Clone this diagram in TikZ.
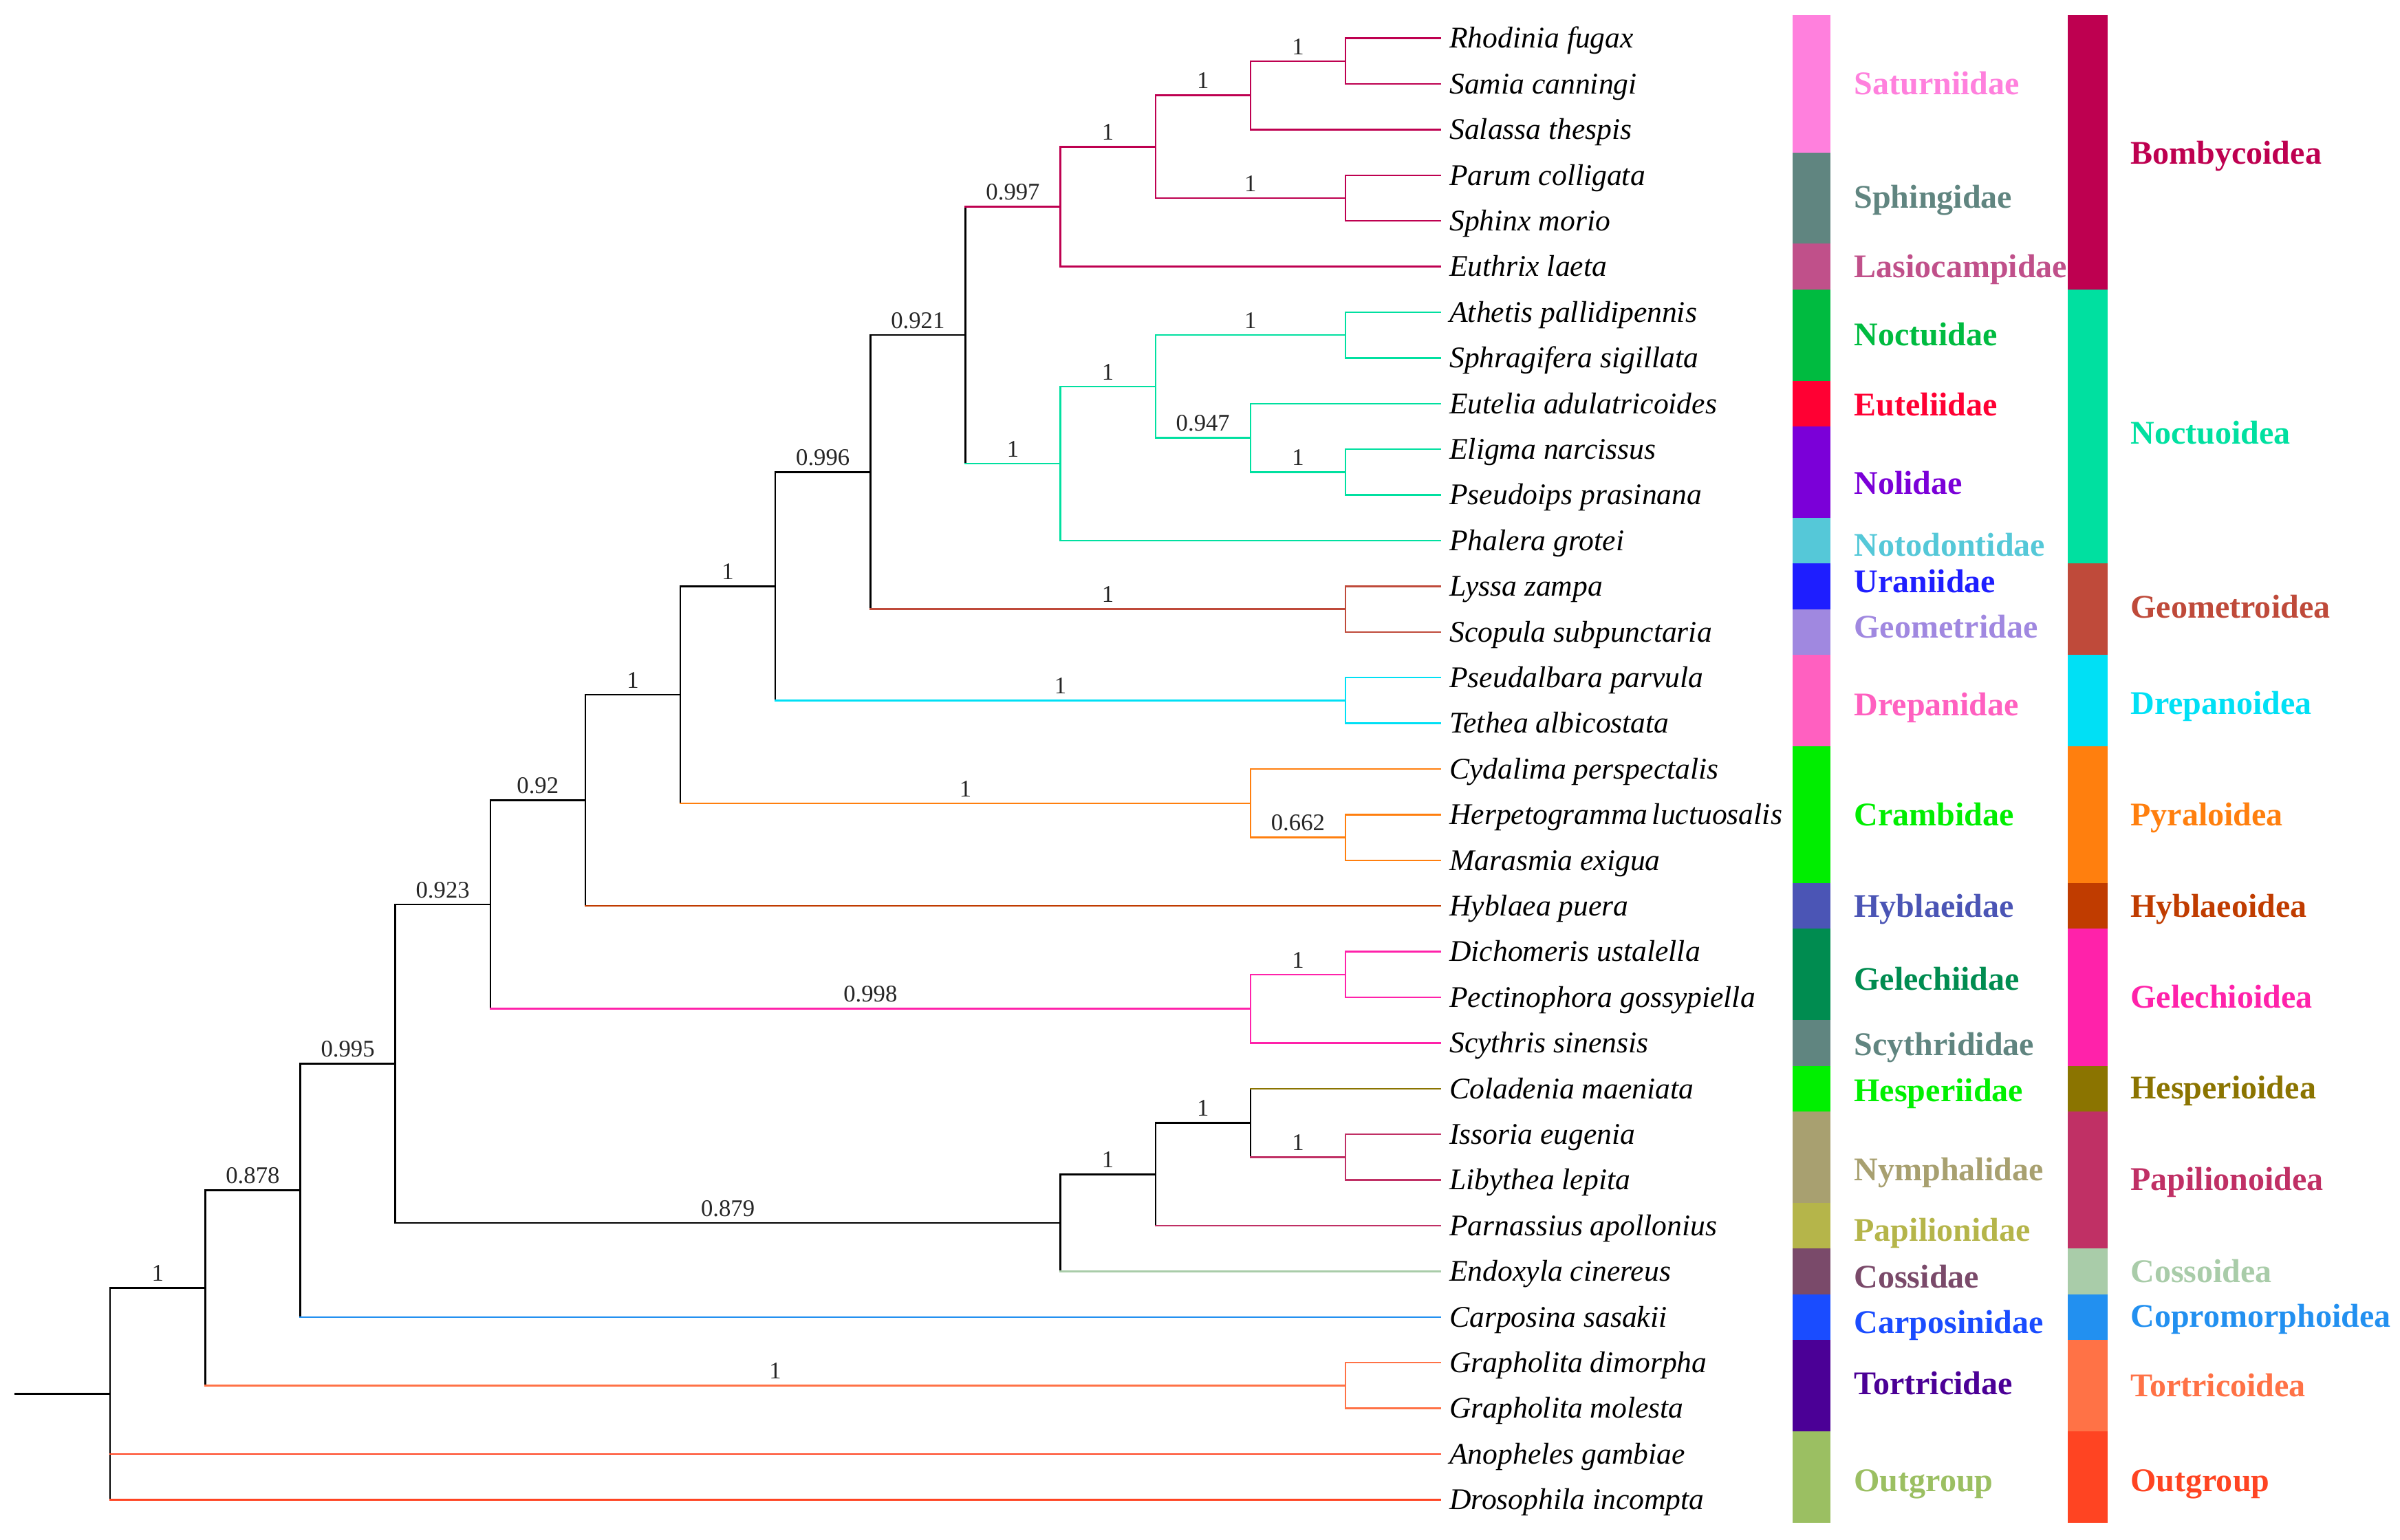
\documentclass[tikz,border=0pt]{standalone}
\usepackage{fontspec}
\setmainfont{Liberation Serif}
\usepackage{xcolor}

% superfamily colours (also used for the branches)
\definecolor{bomby}{HTML}{BE0050}
\definecolor{noctuo}{HTML}{00E0A0}
\definecolor{geomo}{HTML}{BF4A3A}
\definecolor{drepo}{HTML}{00E0F5}
\definecolor{pyral}{HTML}{FF7F0E}
\definecolor{hyblo}{HTML}{C03C00}
\definecolor{gelech}{HTML}{FF22AA}
\definecolor{hesp}{HTML}{8B7400}
\definecolor{papil}{HTML}{C03065}
\definecolor{cosso}{HTML}{A9CCA9}
\definecolor{copro}{HTML}{2290F0}
\definecolor{tortri}{HTML}{FF7246}
\definecolor{outg}{HTML}{FF4422}
% family colours
\definecolor{satur}{HTML}{FF80DD}
\definecolor{sphin}{HTML}{608580}
\definecolor{lasio}{HTML}{C0508A}
\definecolor{noctu}{HTML}{00BB40}
\definecolor{eutel}{HTML}{FF0033}
\definecolor{nolid}{HTML}{7B00D8}
\definecolor{notod}{HTML}{55C8D8}
\definecolor{urani}{HTML}{1E1EFF}
\definecolor{geome}{HTML}{A088E0}
\definecolor{drepa}{HTML}{FF60C0}
\definecolor{cramb}{HTML}{00EE00}
\definecolor{hybla}{HTML}{4B55B5}
\definecolor{gelec}{HTML}{008C50}
\definecolor{scyth}{HTML}{608580}
\definecolor{hespe}{HTML}{00F000}
\definecolor{nymph}{HTML}{A8A070}
\definecolor{papfam}{HTML}{B5B54A}
\definecolor{cossi}{HTML}{7A4A6A}
\definecolor{carpo}{HTML}{1A4CFF}
\definecolor{tortr}{HTML}{4B0096}
\definecolor{outfam}{HTML}{9BBF62}

\begin{document}
\begin{tikzpicture}[x=31.04pt, y=-14.92pt,
  br/.style={line width=0.55pt, line cap=rect},
  supp/.style={font=\fontsize{7.8}{9}\selectfont, text=black!85, inner sep=0pt, anchor=base, yshift=2.2pt},
  sp/.style={font=\fontsize{9.8}{11}\selectfont\itshape, inner sep=0pt, anchor=base west, xshift=2.75pt, yshift=-3.2pt},
  grp/.style={font=\fontsize{10.8}{12}\selectfont\bfseries, inner sep=0pt, anchor=base west, yshift=-3.55pt}]
\useasboundingbox (-1.1598,0.1622) rectangle (24.098,33.875);

% tips
\foreach \i/\sname in {1/Rhodinia fugax, 2/Samia canningi, 3/Salassa thespis,
  4/Parum colligata, 5/Sphinx morio, 6/Euthrix laeta, 7/Athetis pallidipennis,
  8/Sphragifera sigillata, 9/Eutelia adulatricoides, 10/Eligma narcissus,
  11/Pseudoips prasinana, 12/Phalera grotei, 13/Lyssa zampa, 14/Scopula subpunctaria,
  15/Pseudalbara parvula, 16/Tethea albicostata, 17/Cydalima perspectalis,
  18/Herpetogramma\ \kern-1pt luctuosalis, 19/Marasmia exigua, 20/Hyblaea puera,
  21/Dichomeris ustalella, 22/Pectinophora gossypiella, 23/Scythris sinensis,
  24/Coladenia maeniata, 25/Issoria eugenia, 26/Libythea lepita,
  27/Parnassius apollonius, 28/Endoxyla cinereus, 29/Carposina sasakii,
  30/Grapholita dimorpha, 31/Grapholita molesta, 32/Anopheles gambiae,
  33/Drosophila incompta}
  {\coordinate (t\i) at (14,\i);
   \node[sp] (s\i) at (t\i) {\sname};}

% internal nodes
\coordinate (rs) at (13,1.5);
\coordinate (sat) at (12,2.25);
\coordinate (sph) at (13,4.5);
\coordinate (bom2) at (11,3.375);
\coordinate (bom) at (10,4.6875);
\coordinate (ath) at (13,7.5);
\coordinate (eli) at (13,10.5);
\coordinate (eut) at (12,9.75);
\coordinate (noc2) at (11,8.625);
\coordinate (noc) at (10,10.3125);
\coordinate (n9) at (9,7.5);
\coordinate (geo) at (13,13.5);
\coordinate (n8) at (8,10.5);
\coordinate (dre) at (13,15.5);
\coordinate (n7) at (7,13);
\coordinate (her) at (13,18.5);
\coordinate (pyr) at (12,17.75);
\coordinate (n6) at (6,15.375);
\coordinate (n5) at (5,17.6875);
\coordinate (dic) at (13,21.5);
\coordinate (gel) at (12,22.25);
\coordinate (n4) at (4,19.96875);
\coordinate (iss) at (13,25.5);
\coordinate (hes) at (12,24.75);
\coordinate (pap) at (11,25.875);
\coordinate (pap0) at (10,26.9375);
\coordinate (n3) at (3,23.453125);
\coordinate (n2) at (2,26.2265625);
\coordinate (tor) at (13,30.5);
\coordinate (n1) at (1,28.36328);
\coordinate (root) at (0,30.68164);
\coordinate (stem) at (-1,30.68164);

\draw[br] (stem) -- (root);

% vertical bars at the parents
\foreach \p/\a/\b/\col in {root/n1/t33/black, n1/n2/tor/black, tor/t30/t31/tortri,
  n2/n3/t29/black, n3/n4/pap0/black, pap0/pap/t28/black, pap/hes/t27/black,
  hes/t24/iss/black, iss/t25/t26/papil, n4/n5/gel/black, gel/dic/t23/gelech,
  dic/t21/t22/gelech, n5/n6/t20/black, n6/n7/pyr/black, pyr/t17/her/pyral,
  her/t18/t19/pyral, n7/n8/dre/black, dre/t15/t16/drepo, n8/n9/geo/black,
  geo/t13/t14/geomo, n9/bom/noc/black, bom/bom2/t6/bomby, bom2/sat/sph/bomby,
  sat/rs/t3/bomby, rs/t1/t2/bomby, sph/t4/t5/bomby, noc/noc2/t12/noctuo,
  noc2/ath/eut/noctuo, ath/t7/t8/noctuo, eut/t9/eli/noctuo, eli/t10/t11/noctuo}
  \draw[br, color=\col] (\p |- \a) -- (\p |- \b);

% branches with support values
\foreach \p/\c/\col/\v in {root/n1/black/1, n1/n2/black/0.878, n1/tor/tortri/1,
  n2/n3/black/0.995, n3/n4/black/0.923, n3/pap0/black/0.879, pap0/pap/black/1,
  pap/hes/black/1, hes/iss/papil/1, n4/n5/black/0.92, n4/gel/gelech/0.998,
  gel/dic/gelech/1, n5/n6/black/1, n6/n7/black/1, n6/pyr/pyral/1,
  pyr/her/pyral/0.662, n7/n8/black/0.996, n7/dre/drepo/1, n8/n9/black/0.921,
  n8/geo/geomo/1, n9/bom/bomby/0.997, n9/noc/noctuo/1, bom/bom2/bomby/1,
  bom2/sat/bomby/1, bom2/sph/bomby/1, sat/rs/bomby/1, noc/noc2/noctuo/1,
  noc2/ath/noctuo/1, noc2/eut/noctuo/0.947, eut/eli/noctuo/1}
  \draw[br, color=\col] (\p |- \c) -- node[supp] (v-\c) {\v} (\c);

% terminal branches
\foreach \p/\c/\col in {root/t32/outg, root/t33/outg, tor/t30/tortri, tor/t31/tortri,
  n2/t29/copro, pap0/t28/cosso, pap/t27/papil, hes/t24/hesp, iss/t25/papil,
  iss/t26/papil, gel/t23/gelech, dic/t21/gelech, dic/t22/gelech, n5/t20/hyblo,
  pyr/t17/pyral, her/t18/pyral, her/t19/pyral, dre/t15/drepo, dre/t16/drepo,
  geo/t13/geomo, geo/t14/geomo, bom/t6/bomby, sat/t3/bomby, rs/t1/bomby,
  rs/t2/bomby, sph/t4/bomby, sph/t5/bomby, noc/t12/noctuo, ath/t7/noctuo,
  ath/t8/noctuo, eut/t9/noctuo, eli/t10/noctuo, eli/t11/noctuo}
  \draw[br, color=\col] (\p |- \c) -- (\c);

% family strip
\foreach \s/\e/\col/\lab/\ly in {1/3/satur/Saturniidae/2, 4/5/sphin/Sphingidae/4.48,
  6/6/lasio/Lasiocampidae/6, 7/8/noctu/Noctuidae/7.49, 9/9/eutel/Euteliidae/9.03,
  10/11/nolid/Nolidae/10.75, 12/12/notod/Notodontidae/12.1, 13/13/urani/Uraniidae/12.9,
  14/14/geome/Geometridae/13.9, 15/16/drepa/Drepanidae/15.6, 17/19/cramb/Crambidae/18,
  20/20/hybla/Hyblaeidae/20, 21/22/gelec/Gelechiidae/21.6, 23/23/scyth/Scythrididae/23.04,
  24/24/hespe/Hesperiidae/24.04, 25/26/nymph/Nymphalidae/25.77,
  27/27/papfam/Papilionidae/27.1, 28/28/cossi/Cossidae/28.13,
  29/29/carpo/Carposinidae/29.12, 30/31/tortr/Tortricidae/30.46,
  32/33/outfam/Outgroup/32.59}
  {\fill[fill=\col] (17.703,\s-0.5) rectangle (18.106,\e+0.5);
   \node[grp, text=\col] (fam\s) at (18.347,\ly) {\lab};}

% superfamily strip
\foreach \s/\e/\col/\lab/\ly in {1/6/bomby/Bombycoidea/3.52, 7/12/noctuo/Noctuoidea/9.65,
  13/14/geomo/Geometroidea/13.45, 15/16/drepo/Drepanoidea/15.57,
  17/19/pyral/Pyraloidea/18, 20/20/hyblo/Hyblaeoidea/20, 21/23/gelech/Gelechioidea/22,
  24/24/hesp/Hesperioidea/23.98, 25/27/papil/Papilionoidea/25.99,
  28/28/cosso/Cossoidea/28, 29/29/copro/Copromorphoidea/28.98,
  30/31/tortri/Tortricoidea/30.51, 32/33/outg/Outgroup/32.59}
  {\fill[fill=\col] (20.603,\s-0.5) rectangle (21.021,\e+0.5);
   \node[grp, text=\col] (sup\s) at (21.256,\ly) {\lab};}
\end{tikzpicture}
\end{document}
